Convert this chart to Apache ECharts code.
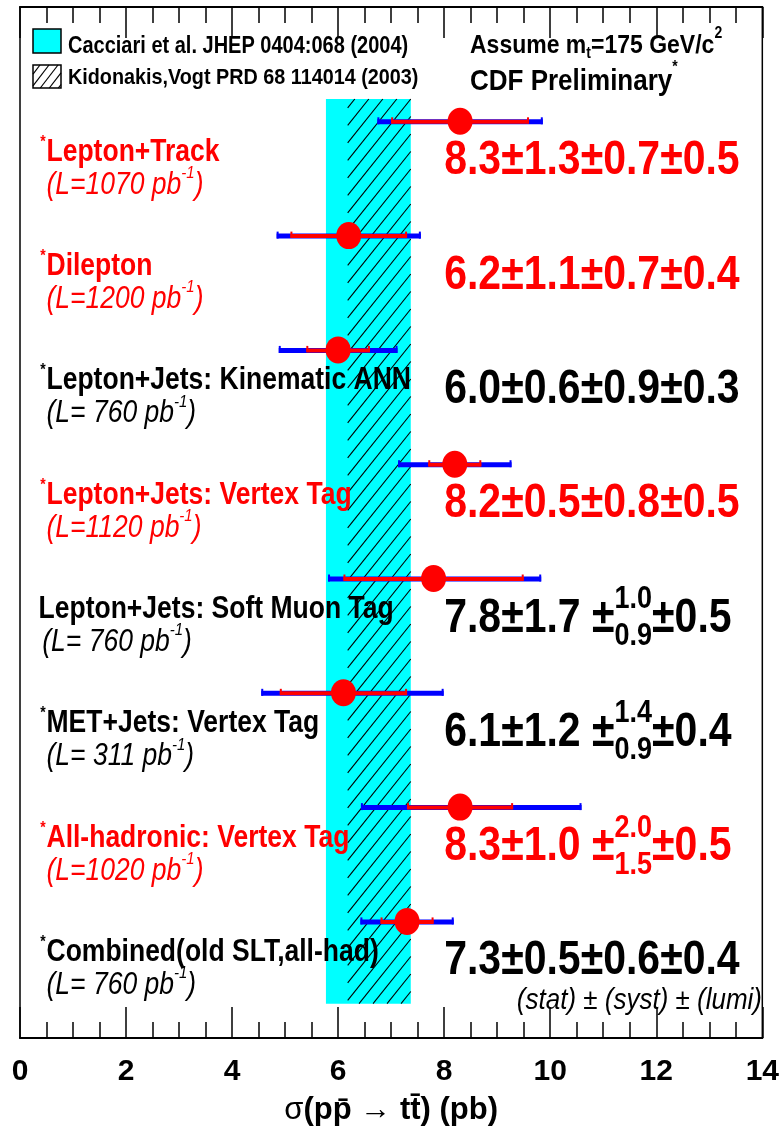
<!DOCTYPE html>
<html><head><meta charset="utf-8">
<script src="https://cdn.jsdelivr.net/npm/echarts@6/dist/echarts.min.js"></script>
<style>html,body{margin:0;padding:0;background:#fff}#c{width:782px;height:1135px}</style>
</head><body><div id="c"></div>
<script>
// ---------------- data ----------------
const measurementNames = ['Lepton+Track','Dilepton','Lepton+Jets: Kinematic ANN','Lepton+Jets: Vertex Tag','Lepton+Jets: Soft Muon Tag','MET+Jets: Vertex Tag','All-hadronic: Vertex Tag','Combined(old SLT,all-had)'];
const lumiValues = ['1070','1200',' 760','1120',' 760',' 311','1020',' 760'];
const labelColors = ['#ff0000','#ff0000','#000000','#ff0000','#000000','#000000','#ff0000','#000000'];
const starred = [true,true,true,true,false,true,true,true];
const centralValues = [8.3,6.2,6.0,8.2,7.8,6.1,8.3,7.3];
const statLow  = [7.0,5.1,5.4,7.7,6.1,4.9,7.3,6.8];
const statHigh = [9.6,7.3,6.6,8.7,9.5,7.3,9.3,7.8];
const totalLow  = [6.74,4.84,4.88,7.13,5.81,4.55,6.43,6.42];
const totalHigh = [9.86,7.56,7.12,9.27,9.83,7.99,10.59,8.18];
const valueHead = ['8.3\u00b11.3\u00b10.7\u00b10.5','6.2\u00b11.1\u00b10.7\u00b10.4','6.0\u00b10.6\u00b10.9\u00b10.3','8.2\u00b10.5\u00b10.8\u00b10.5','7.8\u00b11.7 \u00b1','6.1\u00b11.2 \u00b1','8.3\u00b11.0 \u00b1','7.3\u00b10.5\u00b10.6\u00b10.4'];
const systUp   = ['','','','','1.0','1.4','2.0',''];
const systDown = ['','','','','0.9','0.9','1.5',''];
const valueTail = ['','','','','\u00b10.5','\u00b10.4','\u00b10.5',''];
const cacciariBand = [5.77, 7.37];
const kidonakisBand = [6.18, 7.37];
const xMin = 0, xMax = 14, xInterval = 2;

// ---------------- helpers ----------------
const FONT = '"Liberation Sans", Arial, Helvetica, sans-serif';
const SY = 1.15;
const RED = '#ff0000', BLUE = '#0000ff', CYAN = '#00ffff';
const mctx = document.createElement('canvas').getContext('2d');
function fstr(f){ return (f.italic?'italic ':'') + (f.bold?'bold ':'') + f.size + 'px ' + FONT; }
function tw(text, f){ mctx.font = fstr(f); return mctx.measureText(text).width; }
function txt(x, y, text, f, color, sy){
  return {type:'text', x:x, y:y, scaleY: sy || SY, silent:true,
    style:{text:text, x:0, y:0, fill:color, fontSize:f.size, fontFamily:FONT,
      fontWeight:f.bold?'bold':'normal', fontStyle:f.italic?'italic':'normal',
      align:'left', verticalAlign:'middle'}};
}
function runWidth(parts){
  let w = 0;
  parts.forEach(p => {
    if (p.sup !== undefined) w += Math.max(tw(p.sup,p), tw(p.sub,p));
    else w += tw(p.t, p);
  });
  return w;
}
function runElems(x, y, parts, color, sy){
  const els = []; let cx = x;
  parts.forEach(p => {
    if (p.sup !== undefined) {
      if (p.sup) els.push(txt(cx, y + p.supDy, p.sup, p, color, sy));
      if (p.sub) els.push(txt(cx, y + p.subDy, p.sub, p, color, sy));
      cx += Math.max(tw(p.sup,p), tw(p.sub,p));
    } else {
      if (p.t) els.push(txt(cx, y + (p.dy||0), p.t, p, color, sy));
      cx += tw(p.t, p);
    }
  });
  return els;
}
function hatch(x1, y1, x2, y2, spacing, slope, lw){
  const out = [];
  const cStart = y1 + slope * x1, cEnd = y2 + slope * x2;
  const step = spacing * slope;
  let c0 = Math.ceil(cStart / step) * step;
  for (let c = c0; c <= cEnd; c += step) {
    let xa = Math.max(x1, (c - y2) / slope);
    let xb = Math.min(x2, (c - y1) / slope);
    if (xb > xa) out.push({type:'line', silent:true,
      shape:{x1:xa, y1:c - slope*xa, x2:xb, y2:c - slope*xb},
      style:{stroke:'#000', lineWidth:lw || 1.2}});
  }
  return out;
}

// ---------------- series renderers ----------------
const bandTop = 0.805, bandBottom = 8.72;
function renderBand(params, api){
  const lo = api.value(0), hi = api.value(1), kind = api.value(2);
  const p1 = api.coord([lo, bandTop]), p2 = api.coord([hi, bandBottom]);
  if (kind === 0) {
    return {type:'rect', silent:true, shape:{x:p1[0], y:p1[1], width:p2[0]-p1[0], height:p2[1]-p1[1]}, style:{fill:CYAN}};
  }
  return {type:'group', children: hatch(p1[0], p1[1], p2[0], p2[1], 14, 1.25, 1.1)};
}

function renderRow(params, api){
  const i = params.dataIndex;
  const row = api.value(0);
  const c = api.coord([api.value(1), row]);
  const sL = api.coord([api.value(2), row])[0], sH = api.coord([api.value(3), row])[0];
  const tL = api.coord([api.value(4), row])[0], tH = api.coord([api.value(5), row])[0];
  const py = c[1];
  const ch = [];
  // total (blue)
  ch.push({type:'rect', shape:{x:tL, y:py-2, width:tH-tL, height:5}, style:{fill:BLUE}});
  ch.push({type:'rect', shape:{x:tL, y:py-4, width:2, height:7}, style:{fill:BLUE}});
  ch.push({type:'rect', shape:{x:tH-2, y:py-4, width:2, height:7}, style:{fill:BLUE}});
  // stat (red)
  ch.push({type:'rect', shape:{x:sL, y:py-1.5, width:sH-sL, height:4}, style:{fill:RED}});
  ch.push({type:'rect', shape:{x:sL, y:py-4, width:2, height:6}, style:{fill:RED}});
  ch.push({type:'rect', shape:{x:sH-2, y:py-4, width:2, height:6}, style:{fill:RED}});
  // marker
  ch.push({type:'circle', x:c[0], y:py, scaleY:1.08, shape:{cx:0, cy:0, r:12.5}, style:{fill:RED}});
  // texts
  const col = labelColors[i];
  const lx = api.coord([starred[i] ? 0.5 : 0.35, row])[0];
  const lumX = api.coord([starred[i] ? 0.5 : 0.42, row])[0];
  const starX = api.coord([0.38, row])[0];
  if (starred[i]) ch.push(txt(starX, py + 21, '*', {size:14, bold:true}, col));
  ch.push(txt(lx, py + 31, measurementNames[i], {size:26.5, bold:true}, col));
  ch.push(...runElems(lumX, py + 64, [
    {t:'(L=' + lumiValues[i] + ' pb', size:26.5, italic:true},
    {t:'-1', size:15, italic:true, dy:-12},
    {t:')', size:26.5, italic:true}], col));
  const vx = api.coord([8.0, row])[0];
  ch.push(...runElems(vx, py + 40, [
    {t:valueHead[i], size:41, bold:true},
    {sup:systUp[i], sub:systDown[i], size:27, bold:true, supDy:-19, subDy:18},
    {t:valueTail[i], size:41, bold:true}], col));
  return {type:'group', children: ch};
}

// ---------------- graphic (legend & captions) ----------------
const g = [];
g.push({type:'rect', shape:{x:33, y:29, width:28, height:24}, style:{fill:CYAN, stroke:'#000', lineWidth:1.5}, z:10});
g.push({type:'rect', shape:{x:33, y:65, width:28, height:23}, style:{fill:'#fff', stroke:'#000', lineWidth:1.5}, z:10});
hatch(33, 65, 61, 88, 9, 1.3, 1.2).forEach(l => { l.z = 11; g.push(l); });
runElems(68, 47, [{t:'Cacciari et al. JHEP 0404:068 (2004)', size:20, bold:true}], '#000').forEach(e => g.push(e));
runElems(68, 78, [{t:'Kidonakis,Vogt PRD 68 114014 (2003)', size:19.8, bold:true}], '#000').forEach(e => g.push(e));
runElems(470, 46, [
  {t:'Assume m', size:23, bold:true},
  {t:'t', size:14, bold:true, dy:8},
  {t:'=175 GeV/c', size:23, bold:true},
  {t:'2', size:14, bold:true, dy:-12}], '#000').forEach(e => g.push(e));
runElems(470, 82, [{t:'CDF Preliminary', size:26, bold:true}, {t:'*', size:14, bold:true, dy:-14}], '#000').forEach(e => g.push(e));
const statParts = [{t:'(stat) \u00b1 (syst) \u00b1 (lumi)', size:26, italic:true}];
runElems(762 - runWidth(statParts), 1001, statParts, '#000').forEach(e => g.push(e));
g.forEach(e => { if (e.z === undefined) e.z = 10; e.silent = true; });

// ---------------- chart ----------------
const chart = echarts.init(document.getElementById('c'), null, {renderer:'canvas'});
const axisCommon = {
  type:'value', min:xMin, max:xMax, interval:xInterval,
  splitLine:{show:false},
  axisLine:{show:true, onZero:false, lineStyle:{color:'#000', width:2}},
  axisTick:{show:true, inside:true, length:31, lineStyle:{color:'#000', width:1.5}},
  minorTick:{show:true, splitNumber:4, length:16, lineStyle:{color:'#000', width:1.5}},
  minorSplitLine:{show:false}
};
chart.setOption({
  animation:false,
  backgroundColor:'#fff',
  grid:{left:20, right:17, top:7, bottom:97, show:true, borderColor:'#000', borderWidth:1.5, backgroundColor:'transparent'},
  xAxis:[
    Object.assign({}, axisCommon, {
      position:'bottom',
      axisLabel:{show:true, margin:19, fontSize:30, fontWeight:'bold', color:'#000', fontFamily:FONT},
      name:'{r|\u03c3}{b|(pp\u0304 \u2192 tt\u0304) (pb)}',
      nameLocation:'middle', nameGap:57,
      nameTextStyle:{rich:{
        r:{fontSize:31, fontFamily:FONT, color:'#000'},
        b:{fontSize:31, fontWeight:'bold', fontFamily:FONT, color:'#000'}}}
    }),
    Object.assign({}, axisCommon, {position:'top', axisLabel:{show:false}})
  ],
  yAxis:{type:'value', min:0, max:9.02, inverse:true, show:false},
  graphic:{elements:g},
  series:[
    {type:'custom', name:'theory', clip:false, z:1, silent:true,
     data:[[cacciariBand[0], cacciariBand[1], 0], [kidonakisBand[0], kidonakisBand[1], 1]],
     encode:{x:[0,1]}, renderItem:renderBand},
    {type:'custom', name:'measurements', clip:false, z:3, silent:true,
     data: centralValues.map((v, i) => [i + 1, v, statLow[i], statHigh[i], totalLow[i], totalHigh[i]]),
     encode:{x:[1,2,3,4,5], y:0}, renderItem:renderRow}
  ]
});
</script>
</body></html>
